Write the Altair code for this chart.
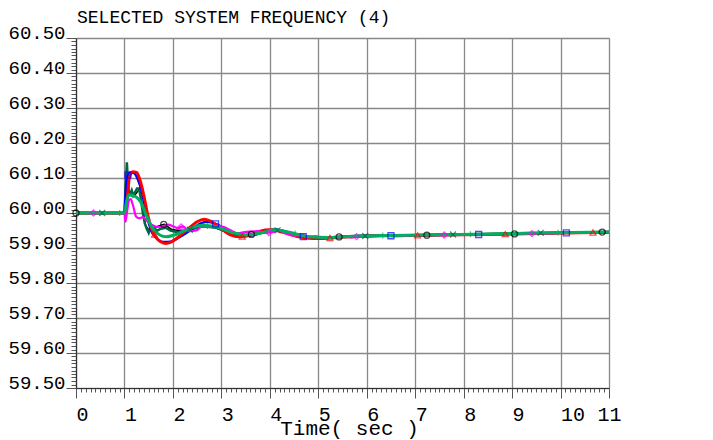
import altair as alt
import pandas as pd
import numpy as np

FONT = "Liberation Mono"

# ---- chart text ----
title_text = ["SELECTED SYSTEM FREQUENCY (4)"]

# ---- series data (time in s, frequency in Hz) ----
black_t = [0, 1.0, 1.05, 1.1, 1.2, 1.3, 1.38, 1.45, 1.55, 1.65, 1.75, 1.82, 1.9, 2.0, 2.2, 2.5, 2.8, 3.1, 3.4, 3.7, 4.0, 4.3, 4.7, 5.1, 5.5, 6, 7, 8, 9, 10, 11]
black_f = [60.0, 60.0, 60.1, 60.055, 60.05, 60.065, 60.01, 59.96, 59.95, 59.96, 59.965, 59.968, 59.96, 59.952, 59.95, 59.962, 59.96, 59.945, 59.935, 59.94, 59.952, 59.948, 59.935, 59.93, 59.932, 59.934, 59.936, 59.938, 59.94, 59.943, 59.946]

dkgreen_t = [0, 1.0, 1.03, 1.05, 1.07, 1.09, 1.12, 1.15, 1.18, 1.22, 1.26, 1.3, 1.34, 1.38, 1.42, 1.46, 1.5, 1.54, 1.58, 1.62, 1.68, 1.75, 1.85, 1.95, 2.1, 2.3, 2.6, 2.9, 3.2, 3.5, 3.8, 4.1, 4.4, 4.8, 5.2, 5.8, 6.5, 7.5, 8.5, 9.5, 11]
dkgreen_f = [60.0, 60.0, 60.09, 60.145, 60.09, 60.06, 60.055, 60.065, 60.05, 60.06, 60.07, 60.07, 60.04, 60.0, 59.97, 59.955, 59.943, 59.96, 59.945, 59.955, 59.95, 59.955, 59.958, 59.95, 59.945, 59.95, 59.962, 59.958, 59.945, 59.937, 59.942, 59.952, 59.944, 59.932, 59.93, 59.934, 59.936, 59.938, 59.94, 59.943, 59.946]

blue_t = [0, 1.0, 1.03, 1.07, 1.12, 1.2, 1.28, 1.36, 1.45, 1.55, 1.65, 1.8, 1.95, 2.1, 2.3, 2.5, 2.7, 2.9, 3.1, 3.3, 3.5, 3.7, 3.9, 4.1, 4.3, 4.5, 4.7, 4.9, 5.2, 5.6, 6, 6.5, 7, 8, 9, 10, 11]
blue_f = [60.0, 60.0, 60.07, 60.108, 60.116, 60.114, 60.095, 60.06, 60.0, 59.95, 59.93, 59.917, 59.918, 59.928, 59.945, 59.965, 59.975, 59.968, 59.952, 59.938, 59.934, 59.938, 59.948, 59.953, 59.948, 59.94, 59.932, 59.928, 59.929, 59.933, 59.935, 59.935, 59.936, 59.938, 59.94, 59.943, 59.945]

red_t = [0, 1.0, 1.05, 1.1, 1.17, 1.25, 1.33, 1.4, 1.48, 1.56, 1.65, 1.75, 1.85, 1.95, 2.1, 2.3, 2.5, 2.65, 2.8, 3.0, 3.2, 3.4, 3.6, 3.8, 4.0, 4.2, 4.4, 4.6, 4.8, 5.0, 5.4, 6, 6.5, 7, 8, 9, 10, 11]
red_f = [60.0, 60.0, 60.03, 60.10, 60.118, 60.116, 60.09, 60.05, 59.995, 59.955, 59.93, 59.918, 59.913, 59.916, 59.93, 59.953, 59.975, 59.982, 59.975, 59.955, 59.937, 59.932, 59.937, 59.948, 59.952, 59.948, 59.94, 59.932, 59.928, 59.927, 59.93, 59.934, 59.935, 59.936, 59.938, 59.94, 59.943, 59.945]

magenta_t = [0, 1.0, 1.02, 1.05, 1.09, 1.13, 1.18, 1.24, 1.3, 1.38, 1.48, 1.58, 1.69, 1.8, 1.9, 2.0, 2.1, 2.2, 2.34, 2.48, 2.6, 2.75, 2.9, 3.05, 3.2, 3.33, 3.45, 3.6, 3.75, 3.9, 4.05, 4.2, 4.35, 4.5, 4.65, 4.8, 4.95, 5.1, 5.25, 5.4, 5.55, 5.7, 5.85, 6.0, 6.3, 6.6, 7, 8, 9, 10, 11]
magenta_f = [60.0, 60.0, 59.975, 60.0, 60.035, 60.04, 60.02, 59.99, 59.985, 59.988, 59.975, 59.965, 59.96, 59.962, 59.967, 59.962, 59.957, 59.962, 59.948, 59.95, 59.962, 59.96, 59.963, 59.96, 59.95, 59.942, 59.945, 59.947, 59.948, 59.943, 59.945, 59.95, 59.94, 59.935, 59.938, 59.931, 59.933, 59.928, 59.932, 59.929, 59.933, 59.93, 59.934, 59.932, 59.935, 59.934, 59.936, 59.938, 59.94, 59.943, 59.946]

green_t = [0, 1.0, 1.04, 1.09, 1.15, 1.25, 1.34, 1.45, 1.58, 1.73, 1.86, 2.03, 2.27, 2.6, 2.9, 3.2, 3.5, 3.8, 4.1, 4.4, 4.8, 5.2, 5.8, 6.5, 7.5, 8.5, 9.5, 11]
green_f = [60.0, 60.0, 60.03, 60.052, 60.05, 60.045, 60.03, 59.994, 59.956, 59.937, 59.932, 59.937, 59.951, 59.965, 59.96, 59.945, 59.937, 59.942, 59.952, 59.945, 59.932, 59.93, 59.934, 59.936, 59.938, 59.94, 59.943, 59.946]

# marker times for each series
black_mk = [0, 1.81, 3.62, 5.43, 7.24, 9.05, 10.86]
magenta_mk = [0.36, 2.17, 3.98, 5.79, 7.6, 9.41]
dkgreen_mk = [0.54, 2.35, 4.16, 5.97, 7.78, 9.59]
green_mk = [0.9, 2.71, 4.52, 6.33, 8.14, 9.95]
blue_mk = [1.07, 2.88, 4.69, 6.5, 8.31, 10.12]
red_mk = [1.62, 3.43, 5.24, 7.05, 8.86, 10.67]

x_ticks = [round(i * 0.1, 1) for i in range(111)]
y_ticks = [round(59.5 + i * 0.01, 2) for i in range(101)]

X_SHAPE = "M-1,-1L1,1M-1,1L1,-1"
PLUS_SHAPE = "M-1,0L1,0M0,-1L0,1"

series = [
    ("black", black_t, black_f, "#000000", 1.5, False, "circle", black_mk),
    ("dkgreen", dkgreen_t, dkgreen_f, "#006644", 2.5, True, X_SHAPE, dkgreen_mk),
    ("blue", blue_t, blue_f, "#0000ff", 2.5, False, "square", blue_mk),
    ("red", red_t, red_f, "#ff0000", 3.0, False, "triangle-up", red_mk),
    ("magenta", magenta_t, magenta_f, "#ff00ff", 2.2, False, "diamond", magenta_mk),
    ("green", green_t, green_f, "#00b060", 3.0, False, PLUS_SHAPE, green_mk),
]

MAJX = "abs(datum.value - round(datum.value)) < 0.001"
MAJY = "abs(datum.value * 10 - round(datum.value * 10)) < 0.001"

xaxis = alt.Axis(
    values=x_ticks,
    labelExpr=f"{MAJX} ? format(datum.value, 'd') : ''",
    labelFont=FONT, labelFontSize=20, labelColor="black",
    labelAlign={"condition": {"test": "datum.value > 10.99", "value": "center"}, "value": "left"},
    labelBaseline="top", labelPadding=6, labelOverlap=False, labelFlush=False, labelBound=False,
    tickSize={"condition": {"test": MAJX, "value": 10}, "value": 4},
    tickColor="#555", tickWidth=1,
    grid=True, gridColor="#888", gridWidth=1.3,
    gridOpacity={"condition": {"test": MAJX, "value": 1}, "value": 0},
    domainColor="#333", domainWidth=1.2,
    title="Time( sec )", titleFont=FONT, titleFontSize=21, titleFontWeight="normal",
    titleColor="black", titleX=273, titleY=46, titleBaseline="alphabetic", titleAlign="center",
)

yaxis = alt.Axis(
    values=y_ticks,
    labelExpr=f"{MAJY} ? format(datum.value, '.2f') : ''",
    labelFont=FONT, labelFontSize=19, labelColor="black",
    labelAlign="right", labelBaseline="alphabetic", labelPadding=1,
    labelOverlap=False, labelFlush=False, labelBound=False,
    tickSize={"condition": {"test": MAJY, "value": 10}, "value": 5},
    tickColor="#555", tickWidth=1,
    grid=True, gridColor="#888", gridWidth=1.3,
    gridOpacity={"condition": {"test": MAJY, "value": 1}, "value": 0},
    domainColor="#333", domainWidth=1.2,
)

X = alt.X("t:Q", scale=alt.Scale(domain=[0, 11], nice=False, zero=False), axis=xaxis)
Y = alt.Y("f:Q", scale=alt.Scale(domain=[59.5, 60.5], nice=False, zero=False), axis=yaxis, title=None)

layers = []
for name, t, f, col, w, jag, shape, mk in series:
    df = pd.DataFrame({"t": t, "f": f})
    layers.append(
        alt.Chart(df).mark_line(color=col, strokeWidth=w,
                                interpolate="linear" if jag else "monotone").encode(x=X, y=Y)
    )
for name, t, f, col, w, jag, shape, mk in series:
    mdf = pd.DataFrame({"t": mk, "f": np.interp(mk, t, f)})
    layers.append(
        alt.Chart(mdf).mark_point(shape=shape, filled=False, color=col, size=36, strokeWidth=1.3).encode(x=X, y=Y)
    )

title_layer = alt.Chart(pd.DataFrame({"label": title_text})).mark_text(
    align="left", baseline="alphabetic", font=FONT, fontSize=18, color="black"
).encode(x=alt.value(1), y=alt.value(-15), text="label:N")
layers.append(title_layer)

chart = alt.layer(*layers).properties(
    width=533, height=350,
    autosize=alt.AutoSizeParams(type="none"),
    padding={"left": 68, "top": 30, "right": 52, "bottom": 52},
).configure_view(stroke="#333", strokeWidth=1.2).configure(background="white")

chart.save("out.html", embed_options={"renderer": "svg", "actions": False})
